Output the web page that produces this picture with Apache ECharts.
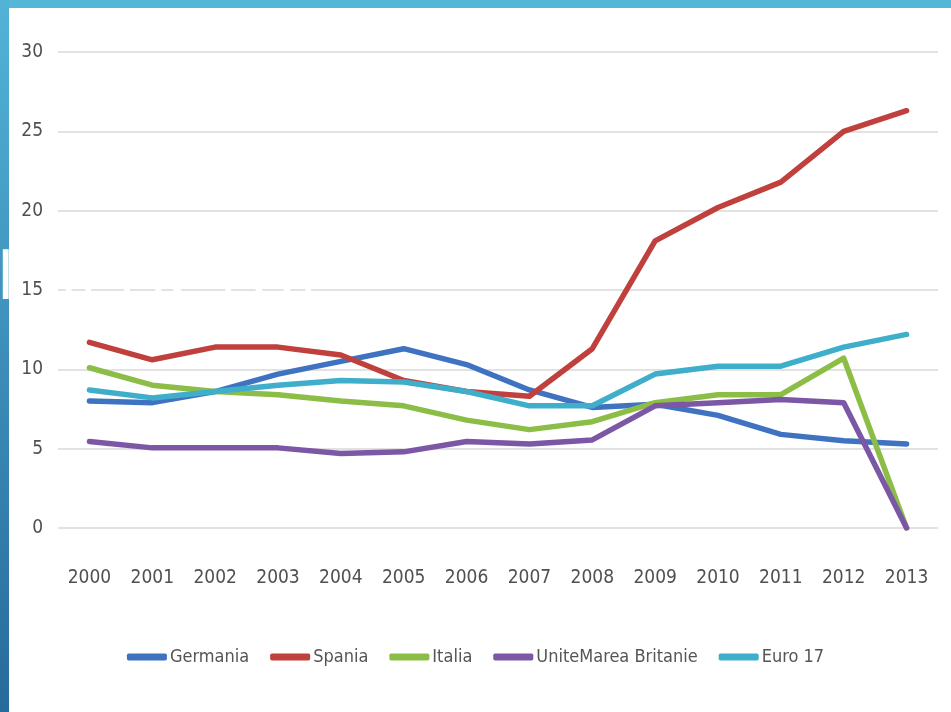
<!DOCTYPE html>
<html>
<head>
<meta charset="utf-8">
<script src="https://cdn.jsdelivr.net/npm/echarts@6/dist/echarts.min.js"></script>
<style>
html,body{margin:0;padding:0;background:#fff;}
#chart{width:951px;height:712px;}
</style>
</head>
<body>
<div id="chart"></div>
<script>
var years = ['2000','2001','2002','2003','2004','2005','2006','2007','2008','2009','2010','2011','2012','2013'];
var germania = [8.0, 7.9, 8.6, 9.7, 10.5, 11.3, 10.3, 8.7, 7.6, 7.8, 7.1, 5.9, 5.5, 5.3];
var spania   = [11.7, 10.6, 11.4, 11.4, 10.9, 9.3, 8.6, 8.3, 11.3, 18.1, 20.2, 21.8, 25.0, 26.3];
var italia   = [10.1, 9.0, 8.6, 8.4, 8.0, 7.7, 6.8, 6.2, 6.7, 7.9, 8.4, 8.4, 10.7, 0];
var uk       = [5.45, 5.05, 5.05, 5.05, 4.7, 4.8, 5.45, 5.3, 5.55, 7.7, 7.9, 8.1, 7.9, 0];
var euro17   = [8.7, 8.2, 8.6, 9.0, 9.3, 9.2, 8.6, 7.7, 7.7, 9.7, 10.2, 10.2, 11.4, 12.2];
var names = ['Germania','Spania','Italia','UniteMarea Britanie','Euro 17'];
var colors = ['#3f73c1','#c0403d','#8cbd47','#7b57a6','#3eaecb'];
var yTicks = {min:0, max:30, interval:5};

var chart = echarts.init(document.getElementById('chart'), null, {renderer:'canvas'});
var font = '"Liberation Sans Narrow","DejaVu Sans Condensed",sans-serif';
var dataSets = [germania, spania, italia, uk, euro17];
var series = dataSets.map(function(d,i){
  return {
    name: names[i], type:'line', data:d, symbol:'none', yAxisIndex:0,
    lineStyle:{width:5.5, color:colors[i], cap:'round', join:'round'},
    itemStyle:{color:colors[i]}, z: 3
  };
});
chart.setOption({
  backgroundColor:'#ffffff',
  animation:false,
  color: colors,
  grid:{left:58, right:13, top:52, bottom:184},
  xAxis:{
    type:'category', data:years, boundaryGap:true,
    axisLine:{show:false}, axisTick:{show:false},
    axisLabel:{color:'#505050', fontSize:19, fontFamily:font, margin:41}
  },
  yAxis:[{
    type:'value', min:yTicks.min, max:yTicks.max, interval:yTicks.interval, position:'left', z:0,
    axisLine:{show:false}, axisTick:{show:false}, axisLabel:{show:false},
    splitLine:{lineStyle:{color:'#d9d9d9', width:1.5}}
  },{
    type:'value', min:yTicks.min, max:yTicks.max, interval:yTicks.interval, position:'left', offset:0, z:30,
    axisLine:{show:false}, axisTick:{show:false}, splitLine:{show:false},
    axisLabel:{color:'#505050', fontSize:19, fontFamily:font, margin:15}
  }],
  legend:{
    data:names, bottom:41, left:'center',
    icon:'roundRect', itemWidth:40, itemHeight:7, itemGap:21,
    textStyle:{color:'#555555', fontSize:18, fontFamily:font, padding:[0,0,0,-2]}
  },
  graphic:[
    {type:'rect', left:0, top:0, z:10, shape:{width:951, height:8}, style:{fill:'#55b6d8'}},
    {type:'rect', left:0, top:0, z:10, shape:{width:9, height:712},
      style:{fill:new echarts.graphic.LinearGradient(0,0,0,1,[{offset:0,color:'#52b3d7'},{offset:1,color:'#276a9c'}])}},
    {type:'text', x:-4, y:244, z:20, silent:true,
      style:{text:'IMPACTUL', fill:'#ffffff', fontSize:70, fontFamily:'"Open Sans", "DejaVu Sans", sans-serif', fontWeight:'normal'}}
  ],
  series: series
});
</script>
</body>
</html>
